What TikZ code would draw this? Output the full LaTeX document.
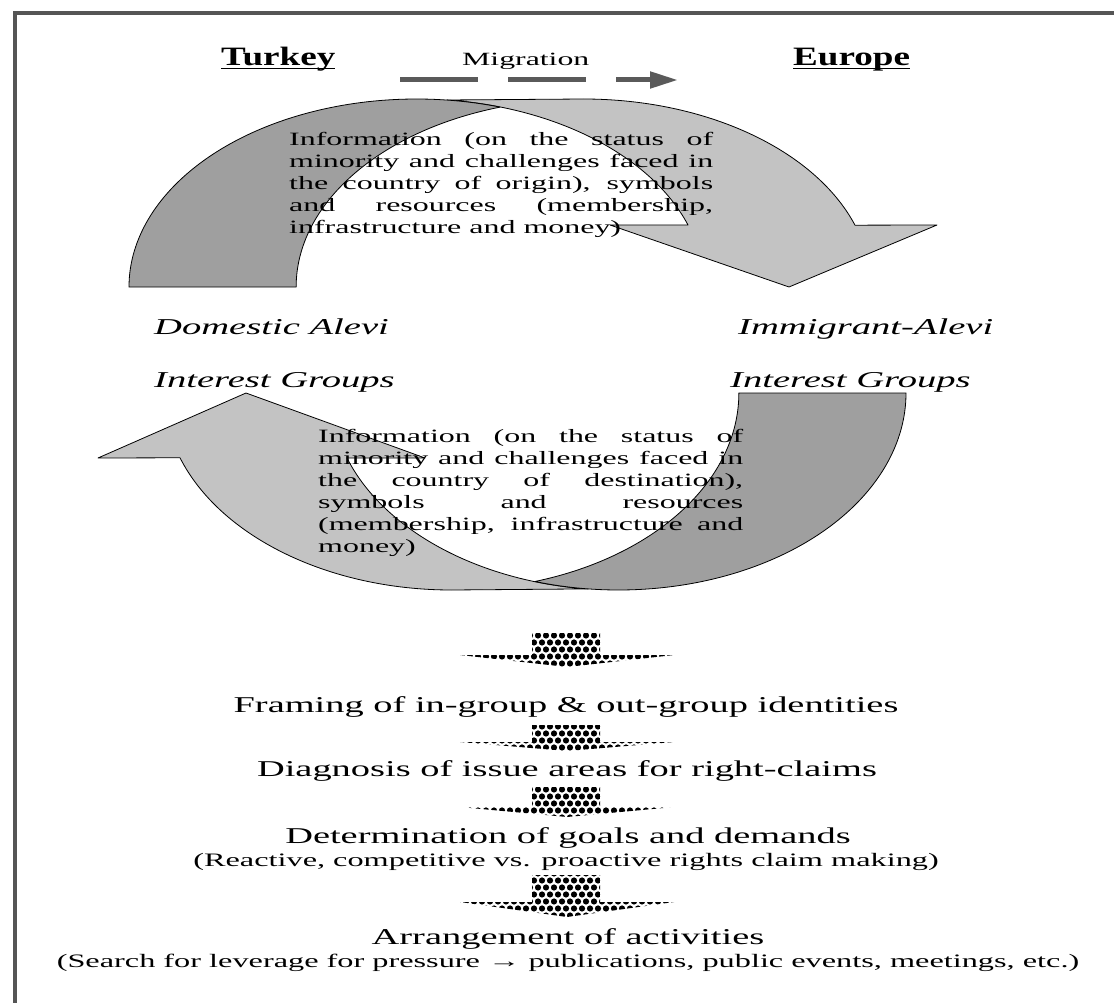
\documentclass[tikz,border=0pt]{standalone}
\usepackage{fontspec}
\setmainfont[FakeStretch=1.7]{Liberation Serif}
\newfontfamily\titlefont[FakeStretch=1.4]{Liberation Serif}
\usepackage{tikz}
\usetikzlibrary{arrows.meta,patterns}
\definecolor{darkc}{HTML}{9F9F9F}
\definecolor{lightc}{HTML}{C3C3C3}
\definecolor{framec}{HTML}{555555}
\definecolor{migc}{HTML}{5A5A5A}
\pgfdeclarepatternformonly{spheres}{\pgfqpoint{-1pt}{-1pt}}{\pgfqpoint{9pt}{15pt}}{\pgfqpoint{8pt}{14pt}}{%
  \pgfpathcircle{\pgfqpoint{2pt}{3.5pt}}{3.1pt}%
  \pgfpathcircle{\pgfqpoint{6pt}{10.5pt}}{3.1pt}%
  \pgfusepath{fill}}
\tikzset{
  band/.style={draw=black,line width=0.8pt,line join=round},
  darkband/.style={band,fill=darkc},
  lightband/.style={band,fill=lightc},
  ell/.style={x radius=287.5,y radius=188},
  ellb/.style={x radius=287.5,y radius=197},
  title/.style={font=\titlefont\bfseries\fontsize{26.5}{30}\selectfont,anchor=base west,inner sep=0pt},
  actor/.style={font=\fontsize{22.7}{26}\selectfont\itshape,anchor=base west,inner sep=0pt},
  info/.style={font=\fontsize{18.8}{22}\selectfont,anchor=base west,inner sep=0pt},
  stage/.style={font=\fontsize{22.6}{26}\selectfont,anchor=base,inner sep=0pt},
  sub/.style={font=\fontsize{19}{22}\selectfont,anchor=base,inner sep=0pt},
  mig/.style={draw=migc,line width=5pt,dash pattern=on 78pt off 30pt,-{Triangle[length=28pt,width=16pt]}},
  flow/.style={pattern=spheres,pattern color=black},
}
\newcommand{\jl}[1]{\makebox[\linewidth][s]{#1}}
\newcommand{\ulbox}[1]{\setbox0\hbox{#1}\rlap{\rule[-3.5pt]{\wd0}{1.8pt}}\box0}
\newcommand{\flowarrow}[3]{\fill[flow] (532,#1) -- (600,#1) -- (600,#2) -- (674,#2) -- (567,#3) -- (460,#2) -- (532,#2) -- cycle;}

\begin{document}
\begin{tikzpicture}[x=1pt,y=-1pt]
  \useasboundingbox (0,0) rectangle (1114,1003);
  % frame
  \draw[framec,line width=4.5pt] (15,1003) -- (15,13) -- (1114,13);
  % upper curved arrow (Turkey -> Europe)
  \draw[lightband] (447,100) -- (583.5,99) arc[start angle=-90,end angle=-19.2,ell]
    -- (937,225) -- (789,287) -- (610,225) -- (688,225) arc[start angle=-19.2,end angle=-83.9,ell] -- cycle;
  \draw[darkband] (129,287) arc[start angle=180,end angle=286.9,ell]
    arc[start angle=253.1,end angle=180,ell] -- cycle;
  % lower curved arrow (Europe -> Turkey)
  \draw[lightband] (588,588.9) -- (451.5,590) arc[start angle=90,end angle=160.8,ellb]
    -- (98,458) -- (246,393) -- (425,458) -- (347,458) arc[start angle=160.8,end angle=96.1,ellb] -- cycle;
  \draw[darkband] (906,393) arc[start angle=0,end angle=106.9,ellb]
    arc[start angle=73.1,end angle=0,ellb] -- cycle;
  % heading
  \node[title] (turkey) at (221,66) {\ulbox{Turkey}};
  \node[title] (europe) at (793,66) {\ulbox{Europe}};
  \node[font=\fontsize{18.7}{22}\selectfont,anchor=base west,inner sep=0pt] (migration) at (462,66) {Migration};
  \coordinate (migs) at (400,80);
  \coordinate (mige) at (678,80);
  \draw[mig] (migs) -- (mige);
  % flows
  \node[info] (infoout) at (289,146) {\parbox[t]{424pt}{\jl{Information (on the status of}\\
    \jl{minority and challenges faced in}\\ \jl{the country of origin), symbols}\\
    \jl{and resources (membership,}\\ infrastructure and money)}};
  \node[info] (infoback) at (318,442) {\parbox[t]{425pt}{\jl{Information (on the status of}\\
    \jl{minority and challenges faced in}\\ \jl{the country of destination),}\\
    \jl{symbols and resources}\\ \jl{(membership, infrastructure and}\\ money)}};
  \node[actor] (domestic) at (154,334) {Domestic Alevi};
  \node[actor] (domesticg) at (154,387) {Interest Groups};
  \node[actor] (immigrant) at (738,334) {Immigrant-Alevi};
  \node[actor] (immigrantg) at (730,387) {Interest Groups};
  % steps
  \flowarrow{633}{655}{667}
  \flowarrow{725}{742}{751}
  \flowarrow{787}{807}{817}
  \flowarrow{875}{902}{917}
  \node[stage] (framing) at (566,712) {Framing of in-group \& out-group identities};
  \node[stage] (diagnosis) at (567,776) {Diagnosis of issue areas for right-claims};
  \node[stage] (goals) at (568,843) {Determination of goals and demands};
  \node[sub] (goalsnote) at (566,866) {(Reactive, competitive vs. proactive rights claim making)};
  \node[stage] (activities) at (568,944) {Arrangement of activities};
  \node[sub] (activitiesnote) at (568,967) {(Search for leverage for pressure → publications, public events, meetings, etc.)};
\end{tikzpicture}
\end{document}
